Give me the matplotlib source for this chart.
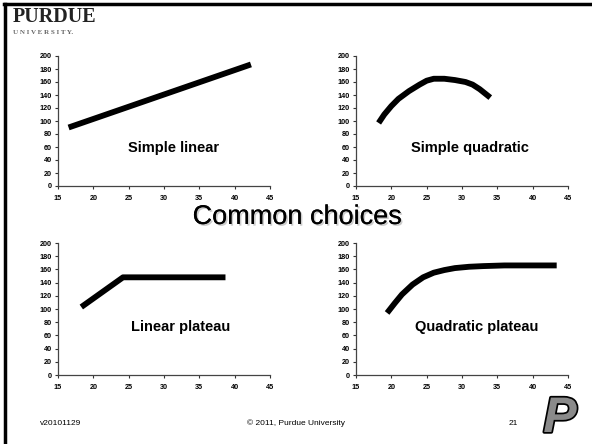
import matplotlib
matplotlib.use("Agg")
import matplotlib.pyplot as plt
import matplotlib.patheffects as pe
from matplotlib.lines import Line2D

plt.rcParams['font.family'] = ['Liberation Sans', 'DejaVu Sans']

# Data
lin_x = [16.5, 42.3]
lin_y = [90, 187]
quad_x = [18.2, 19.0, 20.0, 21.0, 22.5, 24.0, 25.0, 26.0, 27.5, 29.0, 30.5, 31.5, 32.5, 34.0]
quad_y = [97, 110, 123, 134, 146, 156, 162, 165, 165, 163, 160, 156, 149, 136]
lp_x = [18.3, 24.2, 38.7]
lp_y = [103, 148, 148]
qp_x = [19.4, 20.5, 21.5, 23.0, 24.5, 26.0, 27.5, 29.0, 31.0, 33.0, 36.0, 40.0, 43.4]
qp_y = [94, 109, 122, 137, 148, 155, 159, 162, 164, 165, 166, 166, 166]
labels = ["Simple linear", "Simple quadratic", "Linear plateau", "Quadratic plateau"]
x_ticks = [15, 20, 25, 30, 35, 40, 45]
y_ticks = list(range(0, 201, 20))

W, H = 592, 444
fig = plt.figure(figsize=(W / 100, H / 100), dpi=100)
fig.patch.set_facecolor('white')

def px_axes(l, t, r, b):
    return fig.add_axes([l / W, 1 - b / H, (r - l) / W, (b - t) / H])

panels = [
    (px_axes(58, 56, 270, 186), lin_x, lin_y, labels[0], (31.3, 58)),
    (px_axes(356, 56, 568, 186), quad_x, quad_y, labels[1], (31.1, 58)),
    (px_axes(58, 243, 270, 375), lp_x, lp_y, labels[2], (32.3, 73)),
    (px_axes(356, 243, 568, 375), qp_x, qp_y, labels[3], (32.1, 73)),
]

for ax, xs, ys, lab, (tx, ty) in panels:
    ax.plot(xs, ys, color='black', lw=4.2, solid_capstyle='butt')
    ax.set_xlim(15, 45)
    ax.set_ylim(0, 200)
    ax.set_xticks(x_ticks)
    ax.set_yticks(y_ticks)
    ax.set_xticklabels([str(v) for v in x_ticks], fontsize=5.2, fontweight='bold')
    ax.set_yticklabels([str(v) for v in y_ticks], fontsize=5.2, fontweight='bold')
    ax.tick_params(direction='out', length=2.5, width=0.8, pad=2, color='#333333')
    ax.tick_params(axis='x', pad=4)
    for s in ['top', 'right']:
        ax.spines[s].set_visible(False)
    for s in ['left', 'bottom']:
        ax.spines[s].set_color('#444444')
        ax.spines[s].set_linewidth(0.9)
    ax.set_facecolor('none')
    ax.text(tx, ty, lab, ha='center', va='center', fontsize=10.5, fontweight='bold')

# Title with shadow
fig.text(297 / W, 1 - 217 / H, "Common choices", ha='center', va='center', fontsize=19.5,
         color='black',
         path_effects=[pe.withSimplePatchShadow(offset=(1.2, -1.2), shadow_rgbFace='#aaaaaa', alpha=0.6), pe.Normal()])

# Slide frame (top and left lines)
fig.add_artist(Line2D([4 / W, 1], [1 - 4.5 / H, 1 - 4.5 / H], transform=fig.transFigure, color='black', lw=2.5))
fig.add_artist(Line2D([4.5 / W, 4.5 / W], [0, 1 - 4 / H], transform=fig.transFigure, color='black', lw=2.5))

# Purdue logo text
fig.text(13 / W, 1 - 17 / H, "PURDUE", ha='left', va='center', fontsize=14.5, fontweight='bold',
         family='Liberation Serif', color='#222222')
fig.text(13 / W, 1 - 32 / H, "U N I V E R S I T Y.", ha='left', va='center', fontsize=5, fontweight='bold',
         family='Liberation Serif', color='#666666')

# Footer
fig.text(40 / W, 1 - 423 / H, "v20101129", ha='left', va='center', fontsize=6)
fig.text(296 / W, 1 - 423 / H, "\u00a9 2011, Purdue University", ha='center', va='center', fontsize=6)
fig.text(509 / W, 1 - 423 / H, "21", ha='left', va='center', fontsize=6)

# P logo
fig.text(560 / W, 1 - 419 / H, "P", ha='center', va='center', fontsize=36, fontweight='bold',
         style='italic', family='Liberation Sans', color='#8a8a8a',
         path_effects=[pe.Stroke(linewidth=2.5, foreground='black'), pe.Normal()])

fig.savefig("out.png", dpi=100)
